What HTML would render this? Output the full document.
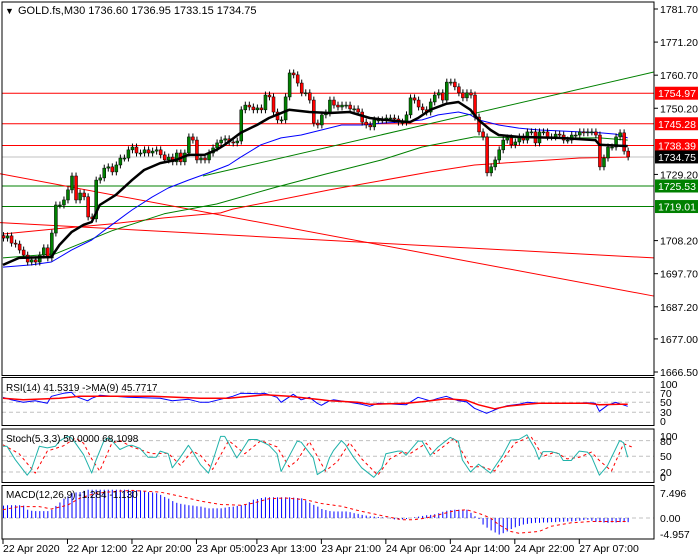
<!DOCTYPE html>
<html><head><meta charset="utf-8"><title>GOLD.fs M30</title>
<style>
html,body{margin:0;padding:0;background:#fff;}
svg{display:block;font-family:"Liberation Sans",Arial,sans-serif;}
</style></head>
<body>
<svg id="chart" width="700" height="560" viewBox="0 0 700 560" xmlns="http://www.w3.org/2000/svg">
  <rect x="0" y="0" width="700" height="560" fill="#fff"/>
  <g id="main"></g>
  <g id="rsi"></g>
  <g id="stoch"></g>
  <g id="macd"></g>
  <g id="axes"></g>
  <text x="5" y="14" font-size="9" fill="#000">▼</text>
  <text x="18" y="14" font-size="11" fill="#000">GOLD.fs,M30  1736.60 1736.95 1733.15 1734.75</text>
</svg>
<script>
// ---------- DATA ----------
const closes = [
1709.0,1709.7,1707.4,1707.1,1705.2,1703.6,1701.4,1702.1,1701.4,1703.6,1705.9,1702.7,1710.6,1719.5,1719.5,1721.1,1724.3,1728.7,1721.1,1723.3,
1722.1,1715.7,1715.1,1727.4,1728.1,1731.2,1731.6,1730.0,1732.2,1734.4,1734.4,1737.0,1737.9,1736.0,1736.0,1737.0,1736.0,1736.6,1737.0,1735.4,
1733.8,1734.7,1733.2,1736.0,1733.2,1736.0,1741.1,1740.1,1733.8,1734.4,1733.8,1736.0,1737.6,
1739.2,1740.1,1740.5,1739.5,1739.2,1739.8,1749.7,1751.2,1750.6,1749.7,1750.3,1749.7,1754.4,1753.8,1749.0,1746.5,1746.5,1753.8,1761.4,1760.8,
1758.2,1755.1,1755.1,1752.8,1745.5,1744.9,1748.1,1748.7,1752.8,1751.2,1750.6,1751.2,1751.2,1750.0,1750.0,1749.0,1745.8,1744.9,1744.3,1746.5,
1746.5,1746.5,1747.1,1747.1,1746.8,1745.8,1745.8,1748.1,1753.5,1752.8,1750.6,1749.7,
1749.0,1752.2,1754.4,1755.1,1752.8,1758.5,1758.5,1757.0,1755.1,1753.5,1755.1,1754.4,1747.4,1742.7,1741.1,1729.7,1731.6,1733.8,1737.0,1740.1,
1740.8,1738.6,1739.5,1741.1,1740.1,1742.7,1742.7,1739.2,1742.7,1742.7,1741.1,1741.1,1742.0,1741.7,1740.1,1740.1,1741.7,1741.7,1742.7,1742.4,
1742.7,1742.7,1741.7,1731.6,1734.4,1737.9,1737.9,1741.1,1742.4,1736.60,1734.75
];
const hLevels = [1754.97, 1745.28, 1738.39];
const sLevels = [1725.53, 1719.01];
const lastPrice = 1734.75;
const priceTicks = [1781.70,1771.20,1760.70,1750.20,1729.20,1708.20,1697.70,1687.20,1677.00,1666.50];
const priceTickLabels = ["1781.70","1771.20","1760.70","1750.20","1729.20","1708.20","1697.70","1687.20","1677.00","1666.50"];
const timeLabels = ["22 Apr 2020","22 Apr 12:00","22 Apr 20:00","23 Apr 05:00","23 Apr 13:00","23 Apr 21:00","24 Apr 06:00","24 Apr 14:00","24 Apr 22:00","27 Apr 07:00"];
const timeLabelBars = [0,16,32,48,63,79,95,111,127,143];

const maBlackIdx = [0,4,12,14,17,20,22,24,28,32,35,39,43,46,50,53,55,59,63,66,71,76,81,86,91,97,101,103,106,110,113,116,118,121,123,128,138,147,148,155];
const maBlackVal = [1700.5,1702.7,1703.0,1706.8,1710.9,1713.2,1714.1,1719.5,1722.7,1727.4,1730.6,1732.8,1733.8,1735.4,1735.4,1737.0,1738.6,1742.4,1744.9,1747.1,1749.7,1749.0,1748.7,1749.0,1747.1,1746.2,1745.8,1747.1,1749.7,1751.6,1752.2,1749.7,1746.5,1743.3,1741.7,1741.1,1740.8,1740.1,1738.6,1738.2];
const maBlueIdx = [0,7,12,17,22,27,32,37,41,46,51,56,59,64,69,74,79,84,89,94,99,104,108,113,116,118,123,128,133,138,143,148,152,155];
const maBlueVal = [1699.8,1700.5,1701.4,1705.2,1708.4,1713.2,1717.9,1722.0,1724.9,1727.4,1729.7,1732.2,1734.7,1738.6,1740.8,1741.7,1743.3,1744.9,1744.9,1745.5,1745.8,1746.5,1748.1,1749.0,1748.1,1746.5,1744.9,1743.9,1743.3,1743.0,1742.7,1742.4,1742.0,1740.8];
const maGreenIdx = [0,13,27,40,53,67,80,94,104,117,130,148,155];
const maGreenVal = [1702.7,1704.0,1711.3,1716.7,1719.8,1724.9,1729.3,1733.8,1737.9,1741.1,1740.8,1740.8,1740.1];
const maRedIdx = [0,13,27,40,54,57,81,106,117,124,143,155];
const maRedVal = [1710.3,1711.9,1713.5,1715.4,1717.0,1718.2,1724.3,1730.0,1732.2,1732.8,1734.4,1734.7];
// trendlines: [x-bar start, price start, x-bar end, price end]
const trendRedA = [-0.75, 1729.4, 161.5, 1690.6];
const trendRedB = [-0.75, 1713.9, 161.5, 1702.7];
const trendGreen = [49.6, 1728.7, 161.5, 1761.7];

const rsiIdx = [0,2,5,8,11,12,15,17,18,21,22,24,31,39,42,46,49,51,57,59,64,65,68,69,72,74,76,78,79,81,82,86,89,91,93,100,103,106,108,110,113,115,117,120,123,125,128,130,133,141,145,147,148,150,152,155];
const rsiVal = [60,55,50,53,48,62,68,70,62,53,58,64,60,58,53,56,50,50,62,68,67,68,60,50,66,55,60,48,44,53,55,50,46,42,48,45,60,53,58,62,53,51,38,28,38,43,46,50,48,48,49,48,32,44,50,42];
const rsiMaIdx = [0,5,14,19,37,49,56,65,71,79,81,88,91,100,104,110,115,118,122,125,130,133,145,148,153,155];
const rsiMaVal = [58,55,58,62,62,58,58,65,62,55,53,50,46,48,51,57,54,45,37,42,46,48,48,45,46,46];

const stochKIdx = [0,1,3,6,7,9,11,13,14,16,17,18,20,22,23,25,26,27,29,31,32,34,36,38,39,41,42,44,46,47,49,51,52,54,55,56,58,59,61,63,65,66,68,69,71,73,74,77,78,80,81,82,84,85,87,89,92,94,95,98,99,100,103,104,106,108,111,113,114,116,118,121,124,126,128,130,132,133,134,136,138,139,141,143,145,146,148,150,153,154,155];
const stochKVal = [69,69,44,14,24,69,66,69,79,88,85,75,53,18,41,79,85,80,63,70,71,65,48,48,60,55,28,48,71,60,34,18,40,88,88,75,47,58,82,82,75,71,55,21,50,79,77,47,15,25,47,61,80,72,48,28,10,28,55,60,60,52,79,79,52,68,86,78,43,20,35,18,52,81,82,91,64,44,59,59,55,42,42,60,58,50,14,32,80,76,48];
const stochDIdx = [0,4,8,11,15,18,20,22,24,27,29,32,37,41,44,47,49,52,56,60,64,68,71,73,76,80,83,86,89,93,96,99,101,105,107,112,116,119,122,127,131,134,137,140,143,146,148,151,154,156];
const stochDVal = [72,55,18,60,70,85,75,45,22,75,80,68,55,56,33,60,52,25,80,55,80,68,30,42,78,22,40,76,45,14,45,58,55,75,55,85,30,30,22,75,88,50,58,45,48,58,42,22,74,68];

const macdHist = [
3.6,3.7,3.7,3.7,3.7,3.6,2.4,2.1,2.0,2.0,2.0,2.0,2.4,3.5,4.5,5.6,6.3,7.2,7.4,7.5,
7.9,8.2,8.2,8.2,8.2,8.2,8.2,8.2,8.2,8.2,8.2,8.2,8.0,8.0,8.0,7.7,7.5,7.4,7.2,6.7,
6.1,5.6,4.9,4.4,4.1,3.9,3.7,3.6,3.4,3.3,3.0,2.8,2.8,2.8,2.8,3.0,3.2,3.3,3.5,3.7,
4.0,4.6,5.3,5.5,5.8,6.0,6.0,6.0,6.0,6.0,6.0,6.0,5.9,5.8,5.7,5.1,4.4,3.8,3.3,2.6,
2.3,2.0,1.9,1.9,1.9,1.9,1.7,1.4,1.2,0.9,0.7,0.5,0.4,0.3,0.2,0.1,-0.1,-0.4,-0.5,-0.4,
-0.3,0,0.2,0.4,0.6,0.8,0.9,1.1,1.4,1.8,2.1,2.3,2.4,2.4,2.4,2.4,1.5,0.5,-0.3,-1.9,
-2.8,-3.6,-4.2,-4.8,-4.4,-3.9,-3.2,-2.7,-2.3,-1.9,-1.7,-1.5,-1.4,-1.4,-1.3,-1.3,-1.2,-1.2,-1.1,-1.1,
-1.0,-1.0,-0.9,-0.8,-0.6,-0.5,-0.8,-1.1,-1.2,-1.3,-1.4,-1.3,-1.3,-1.2,-1.2,-1.2
];
const macdSigIdx = [0,4,9,12,16,19,23,28,32,39,44,49,54,59,62,66,70,75,79,84,89,94,99,102,105,108,112,115,118,121,123,126,128,133,136,141,146,155];
const macdSigVal = [2.4,3.3,3.3,2.6,3.7,5.7,7.2,7.7,8.0,7.5,6.3,4.9,3.9,3.7,4.3,5.6,5.8,5.3,4.2,3.4,1.9,0.7,-0.5,-0.5,0,0.9,2.1,2.4,1.4,0,-1.9,-3.9,-4.4,-3.9,-2.4,-1.4,-1.0,-1.0];

// ---------- SCALES ----------
const NS = "http://www.w3.org/2000/svg";
const X0 = 3, DX = 4.03;
function xB(i){ return X0 + i*DX; }
function yP(p){ return 9 + (1781.7 - p)*3.151; }
function yR(v){ return 427.3 - 0.5*v; }
function yS(v){ return 482.5 - 0.524*v; }
function yM(v){ return 518 - 3.45*v; }
function mk(tag, attrs, parent){
  const e = document.createElementNS(NS, tag);
  for (const k in attrs) e.setAttribute(k, attrs[k]);
  parent.appendChild(e);
  return e;
}
const gMain = document.getElementById('main');
const gR = document.getElementById('rsi');
const gS = document.getElementById('stoch');
const gM = document.getElementById('macd');
const gA = document.getElementById('axes');

function poly(idx, vals, yf, color, width, parent, name, dash){
  let d = '';
  for (let k=0;k<idx.length;k++) d += (k?'L':'M') + xB(idx[k]).toFixed(1) + ',' + yf(vals[k]).toFixed(1);
  const p = mk('path', {d:d, fill:'none', stroke:color, 'stroke-width':width, 'stroke-linejoin':'round'}, parent);
  if (dash) p.setAttribute('stroke-dasharray', dash);
  
  
  return p;
}
function hline(y, color, parent, name, dash, w){
  const l = mk('line', {x1:2, x2:654, y1:y, y2:y, stroke:color, 'stroke-width':w||1}, parent);
  if (dash) l.setAttribute('stroke-dasharray', dash);
  
  
}

// ---------- MAIN PANEL ----------
hline(yP(lastPrice), '#c0c0c0', gMain, 'current-price-line');
hLevels.forEach(function(p){ hline(yP(p), '#ff0000', gMain, 'resistance-line'); });
sLevels.forEach(function(p){ hline(yP(p), '#008000', gMain, 'support-line'); });

function tline(t, color, name){
  const l = mk('line', {x1:xB(t[0]), y1:yP(t[1]), x2:xB(t[2]), y2:yP(t[3]), stroke:color, 'stroke-width':1}, gMain);
  
  
}
tline(trendRedA, '#ff0000', 'trendline-red-steep');
tline(trendRedB, '#ff0000', 'trendline-red-shallow');
tline(trendGreen, '#008000', 'trendline-green');

poly(maRedIdx, maRedVal, yP, '#ff0000', 1, gMain, 'ma-red');
poly(maGreenIdx, maGreenVal, yP, '#008000', 1, gMain, 'ma-green');
poly(maBlueIdx, maBlueVal, yP, '#0000ff', 1, gMain, 'ma-blue');

// candles
for (let i=0;i<closes.length;i++){
  const c = closes[i];
  const o = i ? closes[i-1] : c + 0.8;
  const hi = Math.max(o,c) + 1.1, lo = Math.min(o,c) - 1.1;
  const x = xB(i);
  const g = mk('g', {}, gMain);
  
  
  mk('line', {x1:x+0.5, x2:x+0.5, y1:yP(hi), y2:yP(lo), stroke:'#000', 'stroke-width':1}, g);
  const top = yP(Math.max(o,c)), bot = yP(Math.min(o,c));
  mk('rect', {x:x-1, y:top, width:3, height:Math.max(1, bot-top), fill: c>=o ? '#008000' : '#ff0000', stroke:'#000', 'stroke-width':0.5}, g);
}
poly(maBlackIdx, maBlackVal, yP, '#000', 2.5, gMain, 'ma-black');

// ---------- PANEL FRAMES ----------
function frame(y1, y2, name){
  const r = mk('rect', {x:2, y:y1, width:652, height:y2-y1, fill:'none', stroke:'#000', 'stroke-width':1}, gA);
  
  
}
frame(2, 375.5, 'price-panel-frame');
frame(377.5, 425.5, 'rsi-panel-frame');
frame(429, 482.5, 'stoch-panel-frame');
frame(485.5, 539, 'macd-panel-frame');

// ---------- RSI ----------
[70,50,30].forEach(function(v){ hline(yR(v), '#c0c0c0', gR, 'rsi-level', '4,3'); });
poly(rsiIdx, rsiVal, yR, '#0000ff', 1, gR, 'rsi-line');
poly(rsiMaIdx, rsiMaVal, yR, '#ff0000', 1.5, gR, 'rsi-ma-line');
mk('text', {x:6, y:391, 'font-size':10}, gR).textContent = 'RSI(14) 41.5319  ->MA(9) 45.7717';

// ---------- STOCH ----------
[80,50,20].forEach(function(v){ hline(yS(v), '#c0c0c0', gS, 'stoch-level', '4,3'); });
poly(stochDIdx, stochDVal, yS, '#ff0000', 1, gS, 'stoch-signal-line', '3,3');
poly(stochKIdx, stochKVal, yS, '#20b2aa', 1, gS, 'stoch-main-line');
mk('text', {x:6, y:442, 'font-size':10}, gS).textContent = 'Stoch(5,3,3) 50.0000 68.1098';

// ---------- MACD ----------
hline(yM(0), '#c0c0c0', gM, 'macd-zero-line', '4,3');
for (let i=0;i<macdHist.length;i++){
  const b = mk('line', {x1:xB(i)+0.5, x2:xB(i)+0.5, y1:yM(0), y2:yM(macdHist[i]), stroke:'#0000ff', 'stroke-width':1}, gM);
  
  
}
poly(macdSigIdx, macdSigVal, yM, '#ff0000', 1, gM, 'macd-signal-line', '3,3');
mk('text', {x:6, y:498, 'font-size':10}, gM).textContent = 'MACD(12,26,9) -1.284 -1.130';

// ---------- AXES ----------
function axText(x, y, s, name, fill){
  const t = mk('text', {x:x, y:y, 'font-size':10.5, fill:fill||'#000'}, gA);
  t.textContent = s;
  
  
  return t;
}
priceTicks.forEach(function(p, k){
  const y = yP(p);
  mk('line', {x1:654, x2:658, y1:y, y2:y, stroke:'#000'}, gA);
  axText(660, y+4, priceTickLabels[k], 'price-tick-label');
});
function tag(p, color, name){
  const y = yP(p);
  const r = mk('rect', {x:655, y:y-6.5, width:43, height:13, fill:color}, gA);
  
  
  axText(658, y+4, p.toFixed(2), name + '-text', '#fff');
}
hLevels.forEach(function(p){ tag(p, '#ff0000', 'resistance-price-tag'); });
sLevels.forEach(function(p){ tag(p, '#008000', 'support-price-tag'); });
tag(lastPrice, '#000', 'current-price-tag');

const rsiTicks = [100,70,50,30,0], rsiTickY = [384,393,402,412,421];
rsiTicks.forEach(function(v,k){ axText(660, rsiTickY[k]+4, String(v), 'rsi-tick-label'); });
const stTicks = ["100","80","50","20","0"], stTickY = [436,441,456,472,477];
stTicks.forEach(function(v,k){ axText(660, stTickY[k]+4, v, 'stoch-tick-label'); });
const mTicks = ["7.496","0.00","-4.957"], mTickY = [493,518,534];
mTicks.forEach(function(v,k){ axText(660, mTickY[k]+4, v, 'macd-tick-label'); });

timeLabels.forEach(function(s, k){
  const x = xB(timeLabelBars[k]);
  mk('line', {x1:x, x2:x, y1:539, y2:544, stroke:'#000'}, gA);
  axText(x, 552, s, 'time-tick-label');
});
</script>
</body></html>
